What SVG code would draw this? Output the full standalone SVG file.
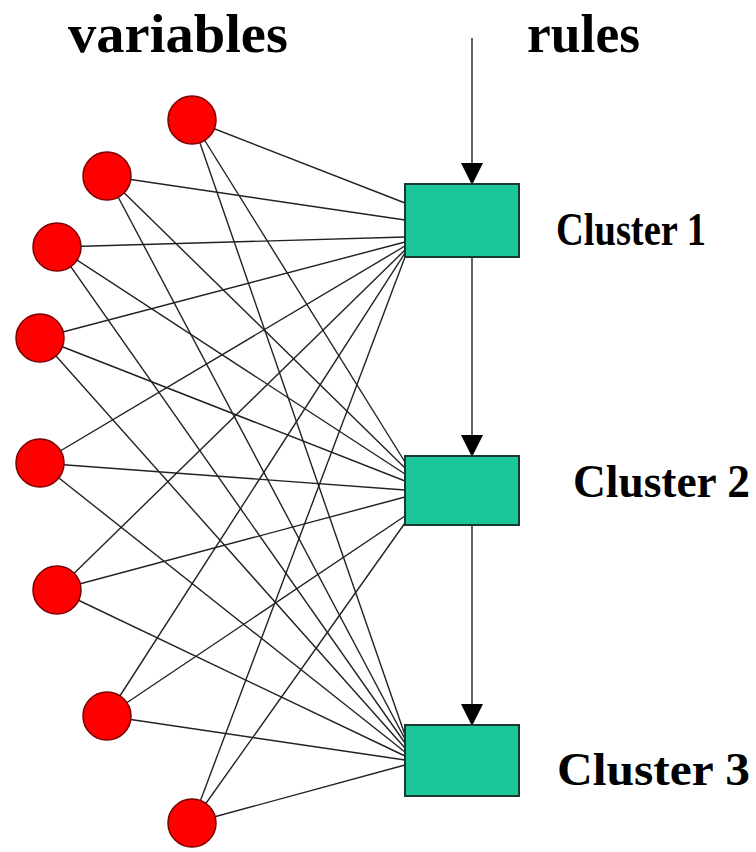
<svg xmlns="http://www.w3.org/2000/svg" width="756" height="852" viewBox="0 0 756 852">
<style>
.t{font-family:"Liberation Serif","Times New Roman",serif;font-weight:bold;fill:#000}
.v{fill:#ff0000;stroke:#7a0000;stroke-width:1.5}
.c{fill:#1bc79a;stroke:#1a3a30;stroke-width:2}
#connectors line{stroke:#222;stroke-width:1.4}
.arr{stroke:#222;stroke-width:1.6}
</style>
<defs>
<marker id="ah" markerWidth="22" markerHeight="22" refX="21" refY="11" orient="auto" markerUnits="userSpaceOnUse" viewBox="0 0 22 22">
<path d="M0,0 L22,11 L0,22 Z" fill="#000"/>
</marker>
</defs>
<rect width="756" height="852" fill="#fff"/>
<text class="t" x="68" y="52" font-size="55" textLength="220" lengthAdjust="spacingAndGlyphs">variables</text>
<text class="t" x="527" y="52" font-size="55" textLength="113" lengthAdjust="spacingAndGlyphs">rules</text>
<g id="connectors">
<line x1="192" y1="120" x2="405" y2="203"/>
<line x1="107" y1="176" x2="405" y2="220"/>
<line x1="57" y1="247" x2="405" y2="237"/>
<line x1="40" y1="338" x2="405" y2="242"/>
<line x1="40" y1="463" x2="405" y2="246"/>
<line x1="57" y1="590" x2="405" y2="250"/>
<line x1="107" y1="716" x2="405" y2="253"/>
<line x1="192" y1="823" x2="405" y2="257"/>
<line x1="192" y1="120" x2="405" y2="462"/>
<line x1="107" y1="176" x2="405" y2="468"/>
<line x1="57" y1="247" x2="405" y2="474"/>
<line x1="40" y1="338" x2="405" y2="481"/>
<line x1="40" y1="463" x2="405" y2="490"/>
<line x1="57" y1="590" x2="405" y2="497"/>
<line x1="107" y1="716" x2="405" y2="516"/>
<line x1="192" y1="823" x2="405" y2="523"/>
<line x1="192" y1="120" x2="405" y2="735"/>
<line x1="107" y1="176" x2="405" y2="739"/>
<line x1="57" y1="247" x2="405" y2="743"/>
<line x1="40" y1="338" x2="405" y2="748"/>
<line x1="40" y1="463" x2="405" y2="752"/>
<line x1="57" y1="590" x2="405" y2="756"/>
<line x1="107" y1="716" x2="405" y2="760"/>
<line x1="192" y1="823" x2="405" y2="765"/>
<line class="arr" x1="472" y1="38" x2="472" y2="184" marker-end="url(#ah)"/>
<line class="arr" x1="472" y1="257" x2="472" y2="456" marker-end="url(#ah)"/>
<line class="arr" x1="472" y1="525" x2="472" y2="725" marker-end="url(#ah)"/>
</g>
<g id="v1"><circle class="v" cx="192" cy="120" r="24"/></g>
<g id="v2"><circle class="v" cx="107" cy="176" r="24"/></g>
<g id="v3"><circle class="v" cx="57" cy="247" r="24"/></g>
<g id="v4"><circle class="v" cx="40" cy="338" r="24"/></g>
<g id="v5"><circle class="v" cx="40" cy="463" r="24"/></g>
<g id="v6"><circle class="v" cx="57" cy="590" r="24"/></g>
<g id="v7"><circle class="v" cx="107" cy="716" r="24"/></g>
<g id="v8"><circle class="v" cx="192" cy="823" r="24"/></g>
<g id="cluster1"><rect class="c" x="405" y="184" width="114" height="73"/>
<text class="t" x="556" y="245" font-size="46" textLength="150" lengthAdjust="spacingAndGlyphs">Cluster 1</text></g>
<g id="cluster2"><rect class="c" x="405" y="456" width="114" height="69"/>
<text class="t" x="573" y="497" font-size="46" textLength="177" lengthAdjust="spacingAndGlyphs">Cluster 2</text></g>
<g id="cluster3"><rect class="c" x="405" y="725" width="114" height="71"/>
<text class="t" x="557" y="785" font-size="46" textLength="193" lengthAdjust="spacingAndGlyphs">Cluster 3</text></g>
</svg>
